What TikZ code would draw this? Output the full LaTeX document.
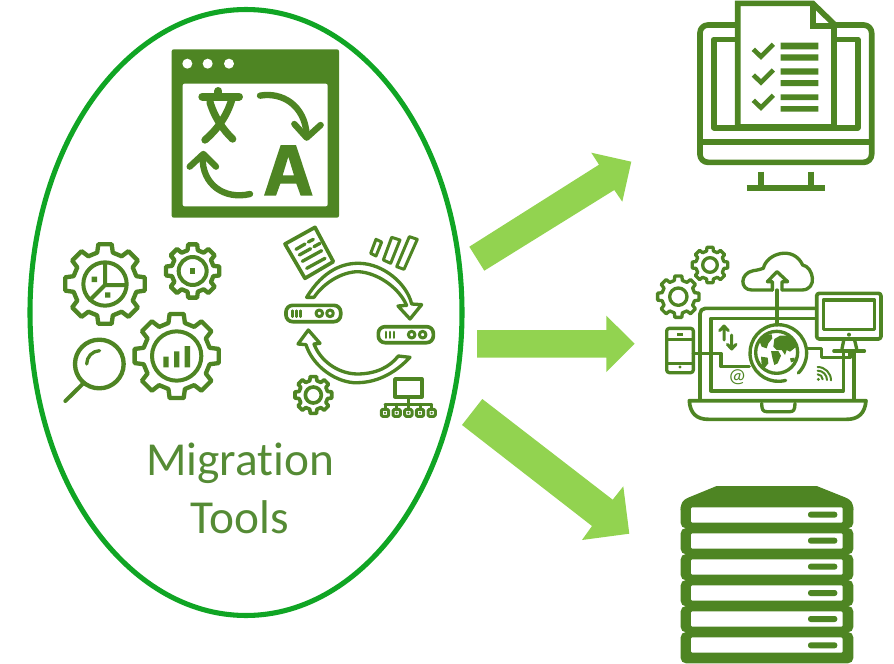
\documentclass[tikz,border=0pt]{standalone}
\usepackage{fontspec}
\setmainfont[Ligatures=NoCommon]{Carlito}
\usetikzlibrary{shapes.geometric}
\definecolor{icg}{HTML}{4E8523}
\definecolor{arrg}{HTML}{92D350}
\definecolor{ringg}{HTML}{10A524}
\definecolor{txtg}{HTML}{558B35}
\tikzset{
  zoomunits/.style={x=.25pt,y=-.25pt},
  ic/.style={draw=icg,line join=round,line cap=round,line width=#1*.25pt},
  ic/.default=12,
  bigarrow/.style={fill=arrg,draw=none},
  solidg/.style={fill=icg,draw=none},
}
% \gearicon{cx}{cy}{outer}{valley}{zoom line width}
\newcommand{\gearicon}[5]{%
  \draw[ic=#5,fill=white,shift={(#1,#2)}] (-9.5:#3)
    \foreach \i in {0,...,7}{ -- ({\i*45-9.5}:#3) -- ({\i*45+9.5}:#3) -- ({\i*45+14}:#4) -- ({\i*45+31}:#4) }
    -- cycle;
}
\begin{document}
\begin{tikzpicture}[x=.75pt,y=-.75pt]
\useasboundingbox (0,0) rectangle (894,664);

% ---------- oval and label
\node[ellipse,draw=ringg,line width=3.8pt,inner sep=0pt,minimum width=432*.75pt,minimum height=606*.75pt] (oval) at (246,312.5) {};
\node[text=txtg,font=\fontsize{35.5}{43.5}\selectfont,align=center,anchor=base] (label) at (240,533) {Migration\\Tools};

% ---------- block arrows
\fill[bigarrow] (469.3,246.7) -- (484.3,270.7) -- (614.3,190) -- (622.3,201.7) -- (631.3,161.7) -- (591.3,152.7) -- (599,164.7) -- cycle;
\fill[bigarrow] (477,330) -- (477,357.7) -- (606.3,357.7) -- (606.3,372) -- (634.7,343.7) -- (606.3,315.7) -- (606.3,330) -- cycle;
\fill[bigarrow] (482.3,399) -- (462,425) -- (592,526) -- (582,540) -- (629.3,533.7) -- (623.3,486.3) -- (612.7,499.7) -- cycle;

% ---------- translate window
\begin{scope}[shift={(165,45)},zoomunits]
  \fill[solidg,rounded corners=1.5pt] (20,13) rectangle (522,518);
  \fill[white,rounded corners=1.5pt] (53,116) rectangle (488,484);
  \foreach \x in {67,128,192} \fill[white] (\x,56) circle (15);
  \draw[ic=24] (112,155) -- (222,155) (160,138) -- (160,155);
  \draw[ic=22] (200,165) .. controls (185,215) and (155,255) .. (120,285);
  \draw[ic=22] (135,172) .. controls (150,220) and (175,255) .. (203,282);
  \draw[ic=19] (285,152) .. controls (350,140) and (420,180) .. (425,270);
  \draw[ic=19] (388,237) -- (425,278) -- (467,240);
  \draw[ic=19] (255,447) .. controls (180,465) and (110,420) .. (113,335);
  \draw[ic=19] (74,365) -- (115,327) -- (153,365);
  \fill[solidg,even odd rule] (297,452) -- (347,300) -- (393,300) -- (443,452) -- (407,452) -- (394,416) -- (346,416) -- (333,452) -- cycle
     (353,391) -- (387,391) -- (370,335) -- cycle;
\end{scope}

% ---------- gears and magnifier
\begin{scope}[shift={(40,210)},zoomunits]
  \gearicon{195}{222}{121}{97}{13}
  \draw[ic=12] (195,222) circle (65);
  \draw[ic=12] (195,160) -- (195,225) -- (257,225) (195,225) -- (150,270);
  \fill[solidg] (155,200) rectangle (171,216) (195,247) rectangle (211,263);
  \gearicon{458}{183}{81}{64}{13}
  \draw[ic=12] (458,183) circle (42);
  \fill[solidg] (450,175) rectangle (466,191);
  \gearicon{410}{438}{128}{102}{13}
  \draw[ic=12] (410,438) circle (74);
  \fill[solidg] (370,440) rectangle (386,472) (402,424) rectangle (418,472) (434,408) rectangle (450,472);
  \draw[ic=13] (178,462) circle (73);
  \draw[ic=10] (140,462) arc[start angle=180,end angle=268,radius=40];
  \draw[ic=12] (128,522) -- (76,573);
\end{scope}

% ---------- migration cycle
\begin{scope}[shift={(270,220)},zoomunits]
  \draw[ic=11] (45,72) -- (135,22) -- (190,125) -- (105,175) -- cycle;
  \draw[ic=10] (78,88) -- (105,72) (115,66) -- (130,58) (88,105) -- (122,86) (132,80) -- (150,70) (97,124) -- (155,92) (110,145) -- (165,115);
  \draw[ic=9] (318,58) -- (335,66) -- (318,108) -- (302,100) -- cycle;
  \draw[ic=9] (365,52) -- (390,60) -- (362,130) -- (340,120) -- cycle;
  \draw[ic=9] (418,50) -- (442,58) -- (402,148) -- (380,140) -- cycle;
  \draw[ic=11,rounded corners=5pt] (48,256) rectangle (212,305);
  \draw[ic=11,rounded corners=5pt] (325,320) rectangle (490,368);
  \draw[ic=9] (148,280) circle (10) (180,280) circle (10) (425,344) circle (10) (458,344) circle (10);
  \draw[ic=8] (68,272) -- (68,290) (80,272) -- (80,290) (92,272) -- (92,290);
  \draw[ic=8] (348,336) -- (348,353) (360,336) -- (360,353) (372,336) -- (372,353);
  \draw[ic=10] (110,232) .. controls (160,150) and (220,128) .. (270,130) .. controls (340,132) and (410,190) .. (425,252)
     -- (455,254) -- (420,297) -- (384,258) -- (410,256) .. controls (385,200) and (320,158) .. (265,155) .. controls (215,155) and (160,190) .. (132,232) -- cycle;
  \draw[ic=10] (420,412) .. controls (360,475) and (300,490) .. (250,488) .. controls (185,482) and (125,430) .. (108,374)
     -- (84,372) -- (115,330) -- (150,370) -- (132,372) .. controls (150,420) and (200,460) .. (260,462) .. controls (320,462) and (360,440) .. (385,408) -- cycle;
  \gearicon{130}{525}{56}{44}{11}
  \draw[ic=11] (130,525) circle (24);
  \draw[ic=11] (375,477) rectangle (455,530);
  \draw[ic=9] (415,530) -- (415,553) (345,553) -- (485,553);
  \foreach \x in {345,380,415,450,485}{
    \draw[ic=9] (\x,553) -- (\x,568);
    \draw[ic=9,rounded corners=1pt] ({\x-11},568) rectangle ({\x+11},589);
    \fill[solidg] (\x,578.5) circle (4);
  }
\end{scope}

% ---------- monitor with checklist
\begin{scope}[shift={(690,0)},zoomunits]
  \draw[ic=17,rounded corners=6pt] (30,75) rectangle (545,487);
  \draw[ic=17,line cap=butt] (30,425) -- (545,425);
  \draw[ic=17] (72,118) rectangle (503,383);
  \draw[ic=17,line cap=butt] (212,515) -- (212,560) (362,515) -- (362,560);
  \draw[ic=17,line cap=butt] (170,563) -- (405,563);
  \draw[ic=17,fill=white,line join=miter] (143,10) -- (368,10) -- (432,72) -- (432,381) -- (143,381) -- cycle;
  \draw[ic=17,line join=miter,line cap=butt] (368,10) -- (368,78) -- (432,78);
  \foreach \d in {0,77,153}{
    \draw[ic=14,line cap=butt,line join=miter] (190,{148+\d}) -- (213,{170+\d}) -- (250,{133+\d});
  }
  \fill[solidg] (272,128) rectangle (385,148) (272,163) rectangle (385,182) (272,205) rectangle (385,224)
     (272,240) rectangle (385,258) (272,283) rectangle (385,300) (272,318) rectangle (385,335);
\end{scope}

% ---------- connected laptop
\begin{scope}[shift={(650,240)},zoomunits]
  \gearicon{85}{170}{63}{50}{10}
  \draw[ic=10] (85,170) circle (26);
  \gearicon{180}{75}{54}{43}{10}
  \draw[ic=10] (180,75) circle (22);
  % cloud
  \draw[ic=10] (367,150) -- (305,150) .. controls (270,150) and (268,100) .. (310,92) .. controls (325,90) and (330,88) .. (340,85)
     .. controls (350,40) and (430,15) .. (458,75) .. controls (490,80) and (505,150) .. (455,150) -- (396,150);
  \draw[ic=10] (367,150) -- (367,125) -- (352,125) -- (381,95) -- (413,125) -- (396,125) -- (396,150);
  \draw[ic=10] (381,150) -- (381,255);
  % laptop
  \draw[ic=11,rounded corners=4pt] (150,480) -- (150,205) -- (500,205);
  \draw[ic=11] (500,235) -- (183,235) -- (183,452) -- (580,452) -- (580,340);
  \draw[ic=11] (612,340) -- (612,480);
  \draw[ic=11] (118,482) -- (648,482) .. controls (645,520) and (625,538) .. (590,538) -- (175,538) .. controls (140,538) and (120,520) .. (118,482) -- cycle;
  \draw[ic=10] (335,490) .. controls (335,510) and (340,515) .. (350,515) -- (420,515) .. controls (430,515) and (435,510) .. (435,490);
  % monitor
  \draw[ic=11,rounded corners=2pt,fill=white] (500,160) rectangle (693,297);
  \draw[ic=11] (520,180) rectangle (673,268);
  \fill[solidg] (597,284) circle (6);
  \draw[ic=10] (582,297) -- (576,326) (613,297) -- (620,326);
  \draw[ic=11] (552,333) -- (643,333);
  % phone
  \draw[ic=10,rounded corners=2pt,fill=white] (50,265) rectangle (130,398);
  \draw[ic=9] (50,297) -- (130,297) (50,369) -- (130,369);
  \fill[solidg] (80,279) rectangle (100,288);
  \fill[solidg] (90,381) circle (5);
  % wires
  \draw[ic=10] (130,340) -- (213,340) -- (213,380) -- (298,380);
  \draw[ic=10] (470,325) -- (515,325) -- (515,353) -- (600,353) -- (600,335);
  % globe
  \draw[ic=10] (385,339) ++(75:85) arc[start angle=75,end angle=405,radius=85];
  \draw[ic=10] (380,337) circle (63);
  \begin{scope}[shift={(255,225)}]
    \fill[solidg] (118,72) -- (135,62) -- (160,62) -- (180,80) -- (190,90) -- (178,100) -- (165,110) -- (155,105) -- (150,120) -- (140,105) -- (125,105) -- (115,95) -- cycle;
    \fill[solidg] (108,108) -- (130,108) -- (138,122) -- (128,145) -- (118,150) -- (112,128) -- cycle;
    \fill[solidg] (72,75) -- (85,60) -- (110,58) -- (112,70) -- (100,85) -- (95,100) -- (80,95) -- cycle;
    \fill[solidg] (78,125) -- (98,128) -- (100,145) -- (88,160) -- (80,150) -- cycle;
    \fill[solidg] (165,130) -- (178,128) -- (180,138) -- (168,142) -- cycle;
    \fill[solidg] (62,105) .. controls (65,130) and (72,150) .. (90,168) .. controls (70,160) and (56,135) .. (62,105) -- cycle;
  \end{scope}
  % small arrows
  \draw[ic=9] (222,300) -- (222,258) (209,272) -- (222,258) -- (235,272);
  \draw[ic=9] (245,285) -- (245,327) (232,313) -- (245,327) -- (258,313);
  \node[text=icg,inner sep=0pt,font=\fontsize{15}{15}\selectfont] (at) at (262,412) {@};
  % wifi
  \fill[solidg] (505,418) circle (5);
  \draw[ic=6] (503,403) arc[start angle=-90,end angle=0,radius=15];
  \draw[ic=6] (503,392) arc[start angle=-90,end angle=0,radius=28];
  \draw[ic=6] (503,381) arc[start angle=-90,end angle=0,radius=40];
\end{scope}

% ---------- server stack
\begin{scope}[shift={(670,480)},zoomunits]
  \fill[solidg] (140,18) -- (440,18) -- (525,52) .. controls (545,60) and (550,70) .. (550,90) -- (32,90) .. controls (32,70) and (37,60) .. (57,52) -- cycle;
  \foreach \y in {82,160,238,316,394}{
    \fill[solidg,rounded corners=4pt] (32,{\y-16}) rectangle (550,{\y+63});
  }
  \fill[solidg,rounded corners=4pt] (32,456) rectangle (550,550);
  \foreach \y/\p in {82/104,160/182,238/260,316/339,394/417,472/496}{
    \fill[white,rounded corners=1pt] (63,\y) rectangle (518,{\y+46});
    \fill[solidg,rounded corners=2pt] (414,{\p-9}) rectangle (502,{\p+9});
  }
\end{scope}
\end{tikzpicture}
\end{document}
